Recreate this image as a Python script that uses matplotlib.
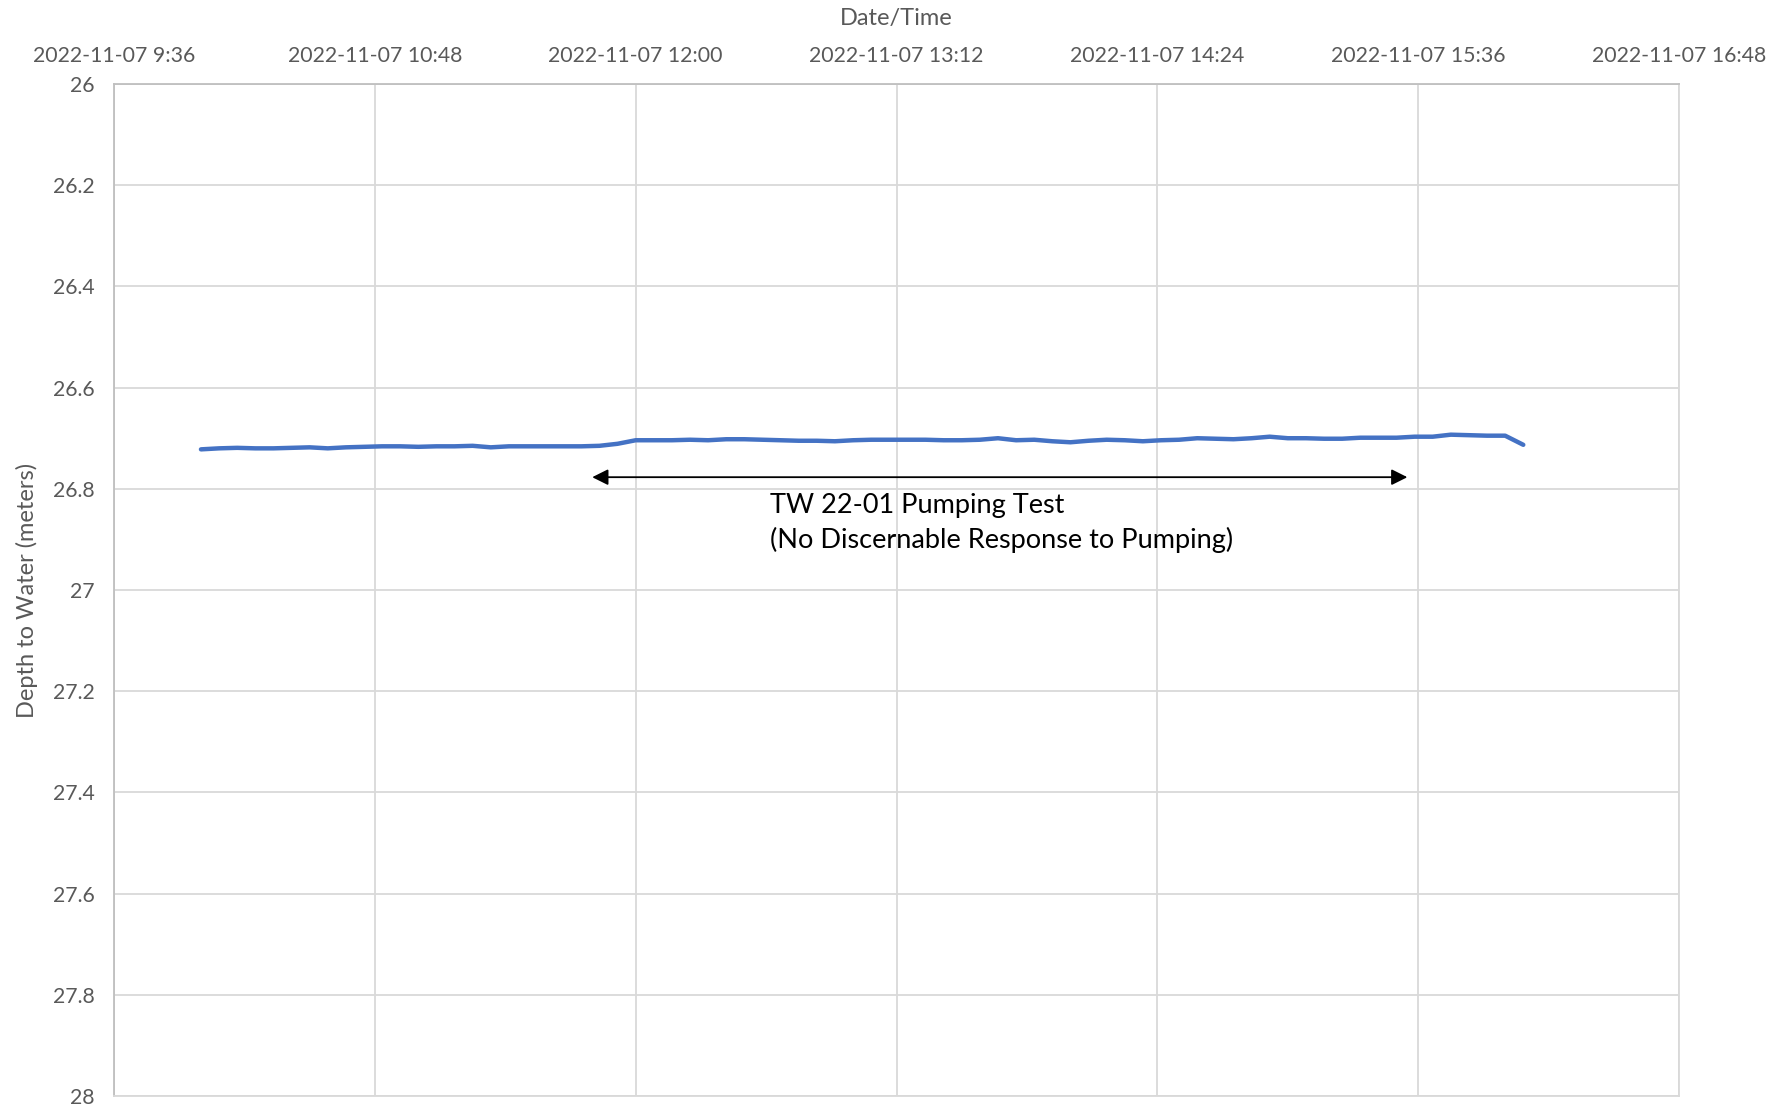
import datetime as dt

import matplotlib
matplotlib.use("Agg")
import matplotlib.pyplot as plt

# Données : profondeur de l'eau, relevés toutes les 5 minutes à partir de 10:00
start_time = dt.datetime(2022, 11, 7, 10, 0)
step_minutes = 5
depth_m = [
    26.722, 26.720, 26.719, 26.720, 26.720, 26.719, 26.718, 26.720, 26.718, 26.717,
    26.716, 26.716, 26.717, 26.716, 26.716, 26.715, 26.718, 26.716, 26.716, 26.716,
    26.716, 26.716, 26.715, 26.711, 26.704, 26.704, 26.704, 26.703, 26.704, 26.702,
    26.702, 26.703, 26.704, 26.705, 26.705, 26.706, 26.704, 26.703, 26.703, 26.703,
    26.703, 26.704, 26.704, 26.703, 26.700, 26.704, 26.703, 26.706, 26.708, 26.705,
    26.703, 26.704, 26.706, 26.704, 26.703, 26.700, 26.701, 26.702, 26.700, 26.697,
    26.700, 26.700, 26.701, 26.701, 26.699, 26.699, 26.699, 26.697, 26.697, 26.693,
    26.694, 26.695, 26.695, 26.713,
]
times = [start_time + dt.timedelta(minutes=step_minutes * i) for i in range(len(depth_m))]

x_ticks = [dt.datetime(2022, 11, 7, 9, 36) + dt.timedelta(minutes=72 * i) for i in range(7)]
x_tick_labels = ["2022-11-07 9:36", "2022-11-07 10:48", "2022-11-07 12:00",
                 "2022-11-07 13:12", "2022-11-07 14:24", "2022-11-07 15:36",
                 "2022-11-07 16:48"]
y_ticks = [26, 26.2, 26.4, 26.6, 26.8, 27, 27.2, 27.4, 27.6, 27.8, 28]
y_tick_labels = ["26", "26.2", "26.4", "26.6", "26.8", "27", "27.2", "27.4", "27.6", "27.8", "28"]

# Annotation de l'essai de pompage
pump_start = dt.datetime(2022, 11, 7, 11, 48)
pump_end = dt.datetime(2022, 11, 7, 15, 33)
arrow_depth = 26.777
note_time = dt.datetime(2022, 11, 7, 12, 37)
note_lines = ["TW 22-01 Pumping Test", "(No Discernable Response to Pumping)"]
note_depths = [26.833, 26.902]

plt.rcParams['font.family'] = ['Lato', 'DejaVu Sans']
grey_txt = "#595959"
grid_col = "#d9d9d9"

fig = plt.figure(figsize=(17.87, 11.10), dpi=100)
ax = fig.add_axes([0.0638, 0.0126, 0.8758, 0.9117])

ax.plot(times, depth_m, color="#4472C4", lw=3.2, solid_joinstyle="round",
        solid_capstyle="round", zorder=3)

ax.set_xlim(x_ticks[0], x_ticks[-1])
ax.set_ylim(28, 26)
ax.set_xticks(x_ticks)
ax.set_xticklabels(x_tick_labels)
ax.set_yticks(y_ticks)
ax.set_yticklabels(y_tick_labels)

ax.xaxis.tick_top()
ax.xaxis.set_label_position("top")
ax.tick_params(axis="both", length=0, labelsize=15.3, labelcolor=grey_txt)
ax.tick_params(axis="x", pad=13)
ax.tick_params(axis="y", pad=14)

ax.set_xlabel("Date/Time", fontsize=17, color=grey_txt, labelpad=15)
ax.set_ylabel("Depth to Water (meters)", fontsize=17, color=grey_txt, labelpad=11)

ax.grid(True, color=grid_col, lw=1.3)
for side, spine in ax.spines.items():
    spine.set_color(grid_col)
    spine.set_linewidth(1.3)
ax.spines["top"].set_color("#bfbfbf")
ax.spines["left"].set_color("#bfbfbf")

ax.annotate("", xy=(pump_start, arrow_depth), xytext=(pump_end, arrow_depth),
            arrowprops=dict(arrowstyle="<|-|>", color="black", lw=1.3,
                            mutation_scale=24, shrinkA=0, shrinkB=0))
for txt, d in zip(note_lines, note_depths):
    ax.text(note_time, d, txt, fontsize=19.5, color="black", va="center", ha="left")

fig.savefig("out.png", dpi=100)
